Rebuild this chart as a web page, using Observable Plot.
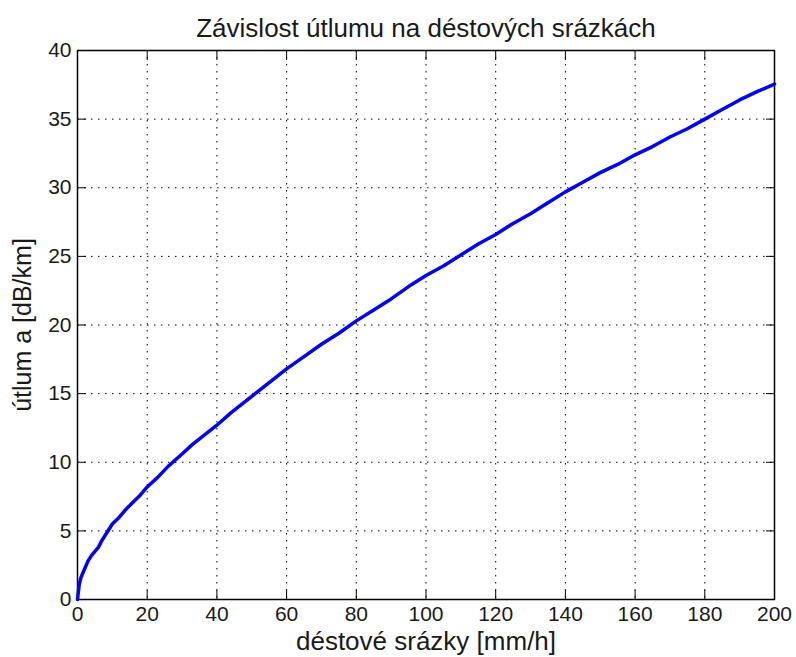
<!DOCTYPE html>
<html>
<head>
<meta charset="utf-8">
<script src="https://cdn.jsdelivr.net/npm/d3@7"></script>
<script src="https://cdn.jsdelivr.net/npm/@observablehq/plot@0.6"></script>
<style>
  html, body { margin: 0; padding: 0; background: #fff; }
  #chart svg { display: block; }
</style>
</head>
<body>
<div id="chart"></div>
<script>
const titleText = "Závislost útlumu na déstových srázkách";
const xLabel = "déstové srázky [mm/h]";
const yLabel = "útlum a [dB/km]";

const rain = [0, 0.5, 1, 2, 3, 4, 5, 6, 7, 8, 9, 10, 12, 14, 16, 18, 20, 23, 26, 30, 33, 36, 40, 44, 48, 52, 56, 60, 65, 70, 75, 80, 85, 90, 95, 100, 105, 110, 115, 120, 125, 130, 135, 140, 145, 150, 155, 160, 165, 170, 175, 180, 185, 190, 195, 200];
const attenuation = [0, 1.1, 1.6, 2.2, 2.8, 3.2, 3.5, 3.8, 4.3, 4.7, 5.1, 5.5, 6.0, 6.6, 7.1, 7.6, 8.2, 8.9, 9.7, 10.6, 11.3, 11.9, 12.7, 13.6, 14.4, 15.2, 16.0, 16.8, 17.7, 18.6, 19.4, 20.3, 21.1, 21.9, 22.8, 23.6, 24.3, 25.1, 25.9, 26.6, 27.4, 28.1, 28.9, 29.7, 30.4, 31.1, 31.7, 32.4, 33.0, 33.7, 34.3, 35.0, 35.7, 36.4, 37.0, 37.55];

const xTicks = [0, 20, 40, 60, 80, 100, 120, 140, 160, 180, 200];
const yTicks = [0, 5, 10, 15, 20, 25, 30, 35, 40];

const data = rain.map((r, i) => ({r, a: attenuation[i]}));

const font = "Liberation Sans, Arial, Helvetica, sans-serif";
const gridStyle = {stroke: "#000", strokeOpacity: 1, strokeWidth: 1, strokeDasharray: "1.5,5.5"};

const chart = Plot.plot({
  width: 796,
  height: 657,
  marginLeft: 77,
  marginRight: 22,
  marginTop: 50,
  marginBottom: 58,
  style: {fontFamily: font, color: "#1a1a1a", background: "#fff"},
  x: {domain: [0, 200], ticks: xTicks},
  y: {domain: [0, 40], ticks: yTicks},
  marks: [
    Plot.gridX(xTicks, gridStyle),
    Plot.gridY(yTicks, gridStyle),
    Plot.axisX(xTicks, {anchor: "bottom", tickSize: -9, fill: null, label: null, stroke: "#000"}),
    Plot.axisX(xTicks, {anchor: "top", tickSize: -9, fill: null, label: null, stroke: "#000"}),
    Plot.axisY(yTicks, {anchor: "left", tickSize: -9, fill: null, label: null, stroke: "#000"}),
    Plot.axisY(yTicks, {anchor: "right", tickSize: -9, fill: null, label: null, stroke: "#000"}),
    Plot.axisX(xTicks, {anchor: "bottom", tickSize: 0, tickPadding: 7, fontSize: 21, label: null}),
    Plot.axisY(yTicks, {anchor: "left", tickSize: 0, tickPadding: 6, fontSize: 21, label: null}),
    Plot.frame({stroke: "#000", strokeWidth: 1.5}),
    Plot.line(data, {x: "r", y: "a", stroke: "#0000ff", strokeWidth: 3.5, curve: "linear"}),
    Plot.text([titleText], {frameAnchor: "top", dy: -22, textAnchor: "middle", lineAnchor: "middle", fontSize: 26, text: d => d, fill: "#1a1a1a"}),
    Plot.text([xLabel], {frameAnchor: "bottom", dy: 42, textAnchor: "middle", lineAnchor: "middle", fontSize: 26, text: d => d, fill: "#1a1a1a"}),
    Plot.text([yLabel], {frameAnchor: "left", dx: -55, rotate: -90, textAnchor: "middle", lineAnchor: "middle", fontSize: 25, text: d => d, fill: "#1a1a1a"})
  ]
});

document.getElementById("chart").appendChild(chart);
</script>
</body>
</html>
